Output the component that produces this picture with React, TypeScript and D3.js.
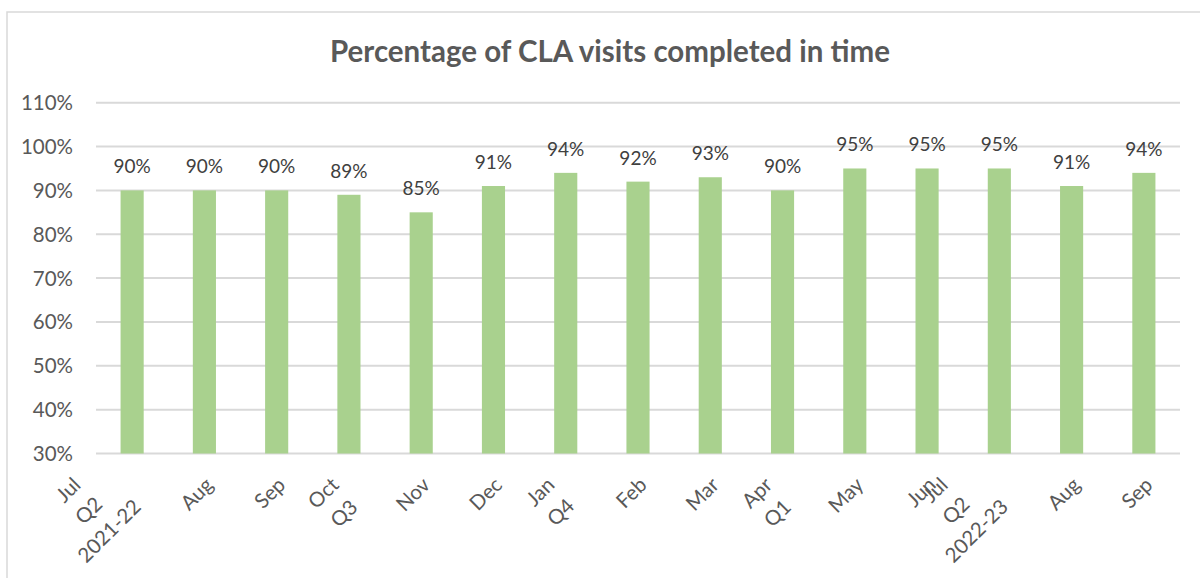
import React, { useRef, useEffect } from 'react';
import * as d3 from 'd3';

const months = ['Jul', 'Aug', 'Sep', 'Oct', 'Nov', 'Dec', 'Jan', 'Feb', 'Mar', 'Apr', 'May', 'Jun', 'Jul', 'Aug', 'Sep'];
const quarters = ['Q2', '', '', 'Q3', '', '', 'Q4', '', '', 'Q1', '', '', 'Q2', '', ''];
const years = ['2021-22', '', '', '', '', '', '', '', '', '', '', '', '2022-23', '', ''];
const values = [90, 90, 90, 89, 85, 91, 94, 92, 93, 90, 95, 95, 95, 91, 94];
const yTicks = [30, 40, 50, 60, 70, 80, 90, 100, 110];

const W = 1200;
const H = 578;
const FONT = 'Lato, "Open Sans", sans-serif';

const App = () => {
  const svgRef = useRef<SVGSVGElement | null>(null);

  useEffect(() => {
    const svg = d3.select(svgRef.current);
    svg.selectAll('*').remove();

    const margin = { top: 103, right: 20, bottom: 124, left: 96 };
    const x = d3.scaleBand<number>()
      .domain(values.map((_, i) => i))
      .range([margin.left, 1180])
      .paddingInner(0.68)
      .paddingOuter(0.34);
    const y = d3.scaleLinear().domain([30, 110]).range([H - margin.bottom - 0.5, margin.top - 0.3]);

    // chart frame
    svg.append('rect')
      .attr('x', 7).attr('y', 12)
      .attr('width', W + 20).attr('height', H + 20)
      .attr('fill', '#fff').attr('stroke', '#d9d9d9').attr('stroke-width', 1.5);

    svg.append('text')
      .attr('x', 610).attr('y', 62)
      .attr('text-anchor', 'middle')
      .attr('font-family', FONT).attr('font-weight', 700).attr('font-size', 29.5)
      .attr('fill', '#595959')
      .text('Percentage of CLA visits completed in time');

    // gridlines
    svg.append('g').selectAll('line')
      .data(yTicks)
      .enter().append('line')
      .attr('x1', margin.left).attr('x2', 1180)
      .attr('y1', (d) => y(d)).attr('y2', (d) => y(d))
      .attr('stroke', '#d9d9d9').attr('stroke-width', 2);

    svg.append('g').selectAll('text')
      .data(yTicks)
      .enter().append('text')
      .attr('x', 73).attr('y', (d) => y(d) + 7.5)
      .attr('text-anchor', 'end')
      .attr('font-family', FONT).attr('font-size', 20.5)
      .attr('fill', '#595959')
      .text((d) => `${d}%`);

    // bars
    svg.append('g').selectAll('rect')
      .data(values)
      .enter().append('rect')
      .attr('x', (_, i) => x(i)!)
      .attr('y', (d) => y(d))
      .attr('width', x.bandwidth())
      .attr('height', (d) => y(30) - y(d))
      .attr('fill', '#a9d18e');

    svg.append('g').selectAll('text')
      .data(values)
      .enter().append('text')
      .attr('x', (_, i) => x(i)! + x.bandwidth() / 2)
      .attr('y', (d) => y(d) - 17)
      .attr('text-anchor', 'middle')
      .attr('font-family', FONT).attr('font-size', 19)
      .attr('fill', '#404040')
      .text((d) => `${d}%`);

    // rotated multi-line category labels (ink box top-right pinned near the tick)
    const lh = 29;
    const capH = 14.5;
    const k = Math.SQRT1_2;
    const labelGroup = svg.append('g');
    months.forEach((m, i) => {
      const lines = [m, quarters[i], years[i]].filter((s) => s !== '');
      const g = labelGroup.append('g');
      const lens: number[] = [];
      const mid = (lines.length - 1) / 2;
      lines.forEach((s, j) => {
        const t = g.append('text')
          .attr('x', 0).attr('y', (j - mid) * lh + capH / 2)
          .attr('text-anchor', 'middle')
          .attr('font-family', FONT).attr('font-size', 20.5)
          .attr('fill', '#595959')
          .text(s);
        lens.push((t.node() as SVGTextElement).getComputedTextLength());
      });
      const right = d3.max(lines, (_, j) => k * (j - mid) * lh + k * (lens[j] + capH) / 2)!;
      const top = d3.min(lines, (_, j) => k * (j - mid) * lh - k * (lens[j] + capH) / 2)!;
      const cx = x(i)! + x.bandwidth() / 2 + 10 - right;
      const cy = 476 - top;
      g.attr('transform', `translate(${cx},${cy}) rotate(-45)`);
    });
  }, []);

  return (
    <svg ref={svgRef} width={W} height={H}
      style={{ position: 'absolute', left: 0, top: 0, background: '#fff' }} />
  );
};

export default App;
